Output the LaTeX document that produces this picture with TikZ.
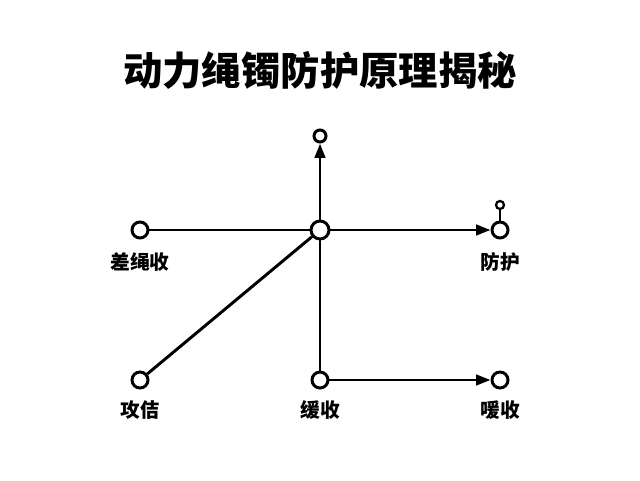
\documentclass[tikz,border=0pt]{standalone}
\usepackage{fontspec}
\newfontfamily\cjk{Noto Sans CJK SC}
\usetikzlibrary{arrows.meta}
\tikzset{
  dot/.style={circle, draw, line width=2.1pt, fill=white, minimum size=0.4cm, inner sep=0pt},
  tinydot/.style={circle, draw, line width=1.6pt, fill=white, minimum size=0.2cm, inner sep=0pt},
  lbl/.style={font=\cjk\bfseries\fontsize{14}{16}\selectfont},
  link/.style={line width=2.1pt},
  arr/.style={line width=2.1pt, -{Triangle[length=0.36cm, width=0.26cm]}}
}
\begin{document}
\begin{tikzpicture}
  \useasboundingbox (0,0) rectangle (16,12);
  \node (title) at (8, 10.25) {\cjk\bfseries\fontsize{28}{32}\selectfont 动力绳镯防护原理揭秘};

  % nodes
  \node [dot, minimum size=0.45cm] (hub) at (8, 6.25) {};
  \node [dot, minimum size=0.3cm] (top) at (8, 8.6) {};
  \node [dot] (hang) at (3.5, 6.25) {};
  \node [dot] (prot) at (12.5, 6.25) {};
  \node [tinydot] (knot) at (12.5, 6.875) {};
  \node [dot] (att) at (3.5, 2.5) {};
  \node [dot] (buf) at (8, 2.5) {};
  \node [dot] (abs) at (12.5, 2.5) {};

  % connectors
  \draw [link] (hang) -- (hub);
  \draw [link] (att) -- (hub);
  \draw [link] (buf) -- (hub);
  \draw [arr] (hub) -- (top);
  \draw [arr] (hub) -- (prot);
  \draw [arr] (buf) -- (abs);
  \draw [line width=1.6pt] (prot) -- (knot);

  % labels
  \node [lbl] (hanglbl) at (3.5, 5.45) {差绳收};
  \node [lbl] (protlbl) at (12.5, 5.45) {防护};
  \node [lbl] (attlbl) at (3.5, 1.75) {攻佶};
  \node [lbl] (buflbl) at (8, 1.75) {缓收};
  \node [lbl] (abslbl) at (12.5, 1.75) {喛收};
\end{tikzpicture}
\end{document}
